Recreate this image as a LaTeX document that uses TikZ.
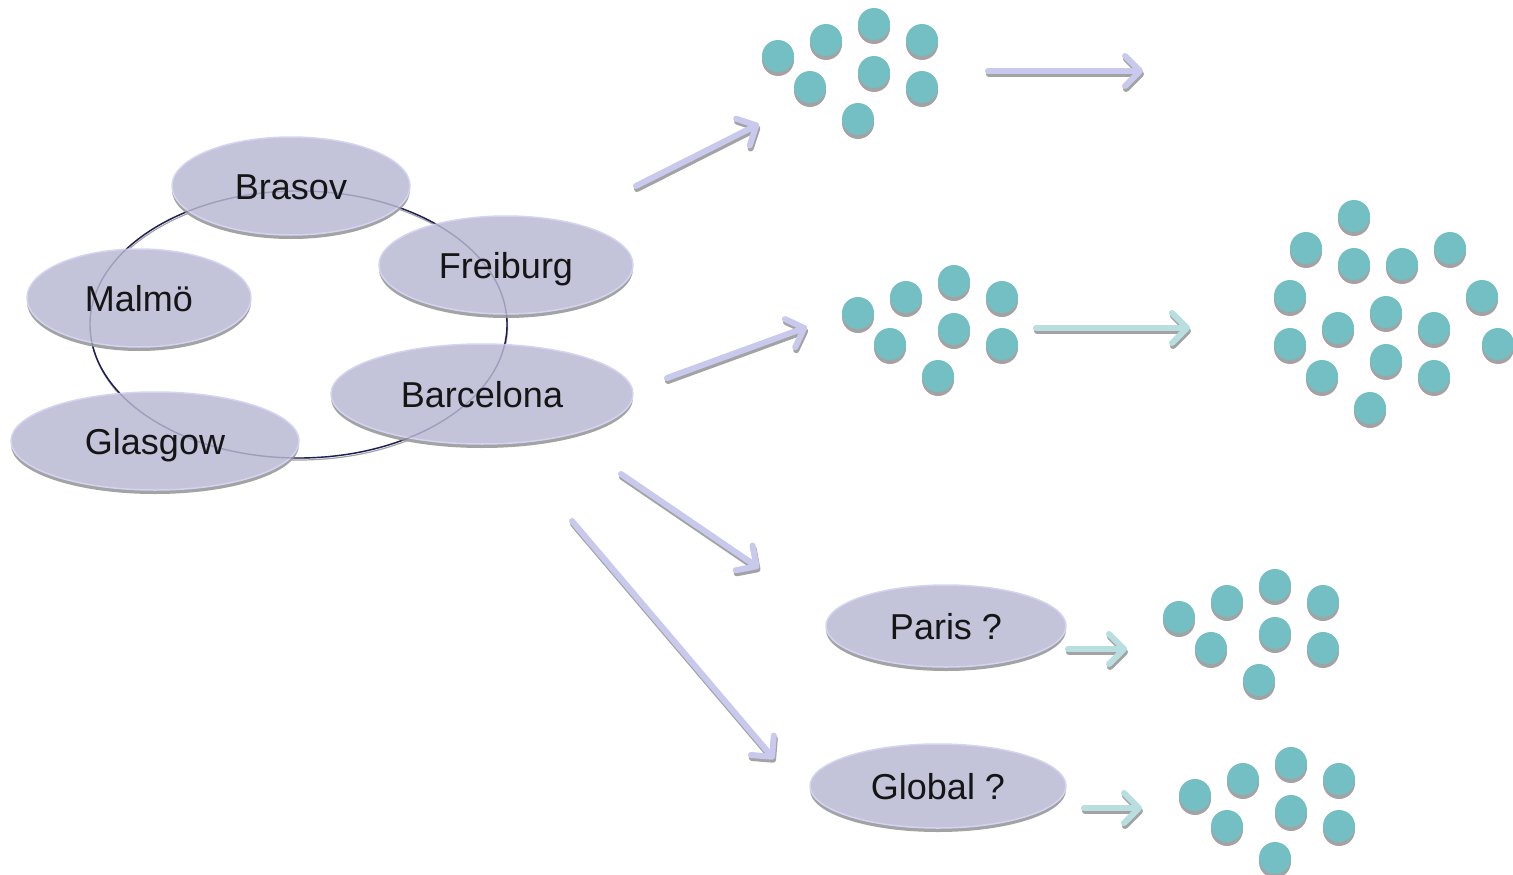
\documentclass[tikz,border=0pt]{standalone}
\usepackage{fontspec}
\setmainfont{Liberation Sans}
\usetikzlibrary{shapes.geometric, arrows.meta, shadows}
\definecolor{ellfill}{HTML}{C3C3D9}
\definecolor{ellrim}{HTML}{D4D4F2}
\definecolor{shgray}{HTML}{A3A3A3}
\definecolor{dotteal}{HTML}{73BFC4}
\definecolor{arrlav}{HTML}{C9C9EE}
\definecolor{arrteal}{HTML}{B8DEDF}
\definecolor{ringnavy}{HTML}{1E1E55}
\definecolor{txt}{HTML}{151515}
\newcommand\dotcluster[3]{%
  \foreach \dx/\dy [count=\i] in {0/0,48/-16,96/-32,144/-16,32/31,96/16,144/31,80/63}{
    \node[dot] (#1-\i) at ({#2+\dx},{#3+\dy}) {};
  }%
}
\newcommand\shadedarrow[3]{%
  \begin{scope}[transform canvas={shift={(1pt,-3pt)}}]
    \draw[arrowbase, draw=shgray] (#1) -- (#2);
  \end{scope}
  \draw[arrowbase, draw=#3] (#1) -- (#2);
}
\begin{document}
\begin{tikzpicture}[x=1pt,y=-1pt,
  city/.style={ellipse, inner sep=0pt, fill=ellfill, draw=ellrim, line width=1.5pt,
    text=txt, font=\fontsize{36}{40}\selectfont, text height=26pt, text depth=0pt,
    general shadow={fill=shgray, draw=none, shadow yshift=-4pt}},
  dot/.style={circle, inner sep=0pt, minimum size=32pt, fill=dotteal,
    general shadow={fill=shgray, shadow yshift=-4pt}},
  arrowbase/.style={line width=6pt, line cap=round,
    -{Straight Barb[length=15pt,width=30pt,line cap=round,line join=round]}},
]
\useasboundingbox (0,0) rectangle (1513,875);

% ring
\draw[shgray, line width=1.2pt] (299,326.5) ellipse [x radius=208.5, y radius=133.5];
\draw[ringnavy, line width=1.4pt] (298.5,324.5) ellipse [x radius=208.5, y radius=133.5];

% cities
\node[city, minimum width=238pt, minimum height=98pt] (brasov) at (291,186) {Brasov};
\node[city, minimum width=254pt, minimum height=98pt] (freiburg) at (506,265) {Freiburg};
\node[city, minimum width=224pt, minimum height=98pt] (malmo) at (139,298) {Malmö};
\node[city, minimum width=302pt, minimum height=100pt] (barcelona) at (482,394) {Barcelona};
\node[city, minimum width=288pt, minimum height=98pt] (glasgow) at (155,441) {Glasgow};

% faint ring seen through the ellipses
\draw[ringnavy, line width=1.4pt, opacity=0.22] (298.5,324.5) ellipse [x radius=208.5, y radius=133.5];

\node[city, minimum width=240pt, minimum height=82pt] (paris) at (946,626) {Paris ?};
\node[city, minimum width=256pt, minimum height=84pt] (global) at (938,786) {Global ?};

% clusters
\dotcluster{ca}{778}{56}
\dotcluster{cb}{858}{313}
\dotcluster{cp}{1179}{617}
\dotcluster{cg}{1195}{795}
\foreach \x/\y [count=\i] in {1354/216,1306/248,1354/264,1402/264,1450/248,1290/296,1482/296,1386/312,1338/328,1434/328,1290/344,1498/344,1386/360,1322/376,1434/376,1370/408}{
  \node[dot] (cz-\i) at (\x,\y) {};
}

% arrows
\coordinate (a1s) at (636,186); \coordinate (a1e) at (759,124);
\coordinate (a2s) at (667,378); \coordinate (a2e) at (807,327);
\coordinate (a3s) at (621,474); \coordinate (a3e) at (759,568);
\coordinate (a4s) at (572,521); \coordinate (a4e) at (774,759);
\coordinate (a5s) at (988,71); \coordinate (a5e) at (1143,71);
\coordinate (a6s) at (1036,328); \coordinate (a6e) at (1190,328);
\coordinate (a7s) at (1068,649); \coordinate (a7e) at (1127,649);
\coordinate (a8s) at (1084,808); \coordinate (a8e) at (1142,808);
\shadedarrow{a1s}{a1e}{arrlav}
\shadedarrow{a2s}{a2e}{arrlav}
\shadedarrow{a3s}{a3e}{arrlav}
\shadedarrow{a4s}{a4e}{arrlav}
\shadedarrow{a5s}{a5e}{arrlav}
\shadedarrow{a6s}{a6e}{arrteal}
\shadedarrow{a7s}{a7e}{arrteal}
\shadedarrow{a8s}{a8e}{arrteal}
\end{tikzpicture}
\end{document}
